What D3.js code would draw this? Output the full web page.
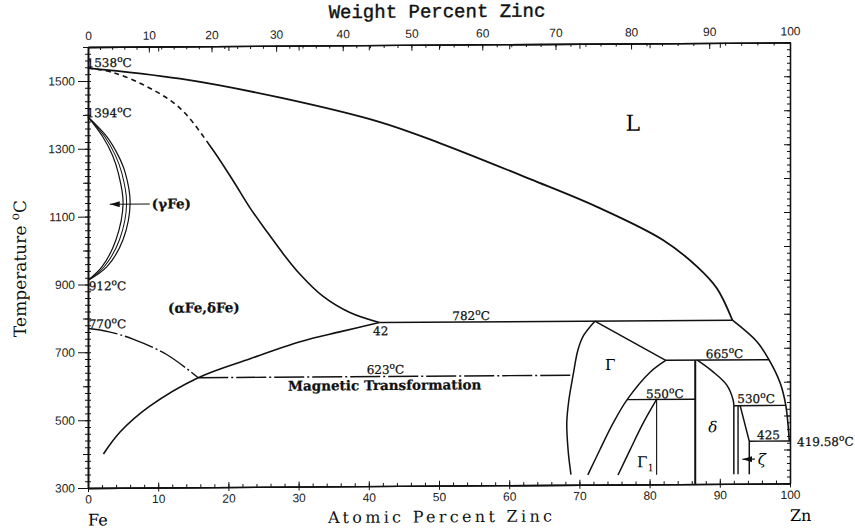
<!DOCTYPE html>
<html>
<head>
<meta charset="utf-8">
<script src="https://cdn.jsdelivr.net/npm/d3@7"></script>
<style>
  body { margin: 0; background: #fff; }
  svg { display: block; }
</style>
</head>
<body>
<div class="box"></div>
<script>
// ticks
const weightTicks = [0, 10, 20, 30, 40, 50, 60, 70, 80, 90, 100];
const atomicTicks = [0, 10, 20, 30, 40, 50, 60, 70, 80, 90, 100];
const tempTicks = [300, 500, 700, 900, 1100, 1300, 1500];

// phase boundaries [at.% Zn, °C]
const liquidusUpper = [[0, 1538], [13.1, 1505], [27.4, 1447], [41.6, 1373], [50.1, 1310], [63, 1202], [72.5, 1119], [81.9, 1020], [86.8, 940], [89.6, 876], [91.8, 782]];
const liquidusLower = [[91.8, 782], [95.3, 718], [97.0, 665], [98.6, 596], [99.4, 530], [99.9, 425]];
const solidusDashed = [[0, 1538], [3.6, 1524], [8.4, 1482], [13.1, 1418], [17.6, 1300]];
const solidusSolid = [[17.6, 1300], [20.7, 1202], [23.1, 1122], [25.5, 1052], [27.8, 987], [30.2, 926], [33.5, 860], [37.3, 812], [41.5, 782]];
const alphaSolvus = [[41.5, 782], [36, 756], [30.2, 727], [23.1, 678], [15.7, 623], [8.8, 540], [4.6, 465], [2.2, 400]];
const curieLine = [[0, 770], [3, 760], [6.4, 738], [11.2, 692], [15.7, 623]];
const magneticLine = [[15.7, 623], [69.1, 623]];
const gammaOuter = [[0, 1394], [2.7, 1335], [4.3, 1280], [5.3, 1229], [6.0, 1140], [5.0, 1032], [2.7, 952], [0, 912]];
const gammaMiddle = [[0, 1394], [2.4, 1335], [3.9, 1280], [4.8, 1229], [5.5, 1140], [4.5, 1032], [2.3, 952], [0, 912]];
const gammaInner = [[0, 1394], [2.1, 1335], [3.5, 1280], [4.3, 1229], [5.0, 1140], [4.0, 1032], [2.0, 952], [0, 912]];
const line782 = [[41.5, 782], [91.8, 782]];
const gammaLeft = [[72.2, 782], [70.6, 740], [69.8, 698], [69.1, 623], [68.5, 550], [68.2, 482], [68.4, 400], [68.8, 330]];
const gammaTop = [[72.2, 782], [82.3, 665]];
const line665 = [[82.3, 665], [97.0, 665]];
const gammaRight = [[82.3, 665], [80.1, 631], [76.8, 550], [74.8, 481], [72.9, 402], [71.2, 329]];
const line550 = [[76.8, 550], [86.5, 550]];
const gamma1Curve = [[81.0, 550], [79.1, 481], [77.2, 401], [75.5, 328]];
const gamma1Vert = [[81.0, 550], [81.0, 328]];
const deltaLeft = [[86.5, 665], [86.5, 300]];
const deltaRight = [[86.8, 665], [89.0, 631], [91.0, 591], [91.9, 547], [92.0, 530]];
const deltaRightVert = [[92.0, 530], [92.0, 328]];
const line530 = [[92.0, 530], [99.4, 530]];
const zetaLeft = [[92.6, 530], [92.6, 328]];
const zetaRight = [[92.9, 530], [94.2, 425], [94.2, 328]];
const line425 = [[94.2, 425], [100, 425]];

// textes [at.%, °C, texte]
const labels = [
  [-0.2, 1553, '1538°C'], [-0.2, 1405, '1394°C'], [0.1, 895, '912°C'], [0.1, 783, '770°C'],
  [40.6, 757, '42'], [51.9, 800, '782°C'], [39.7, 643, '623°C'],
  [79.5, 566, '550°C'], [88.0, 683, '665°C'], [92.5, 550, '530°C'], [95.3, 443, '425'],
  [101.0, 422, '419.58°C']
];
const boldLabels = [[11.4, 829, '(αFe,δFe)'], [9.1, 1136, '(γFe)'], [28.5, 597, 'Magnetic Transformation']];

const svg = d3.select('.box')
              .append('svg')
              .attr('width', 855)
              .attr('height', 529);

// le scan est légèrement incliné (côté droit ~5px plus haut)
const g = svg.append('g').attr('transform', 'matrix(1,-0.0066,0,1,0,0.58)');

const x = d3.scaleLinear().domain([0, 100]).range([88, 790]);
const y = d3.scaleLinear().domain([300, 1600]).range([488, 47]);

const wtToAt = w => 100 * (w / 65.38) / (w / 65.38 + (100 - w) / 55.845);

const tickFont = '12px "Liberation Sans", Arial, sans-serif';

// axes
const styleAxis = sel => {
  sel.select('.domain').attr('stroke', '#111').attr('stroke-width', 1.3);
  sel.selectAll('.tick line').attr('stroke', '#111');
  sel.selectAll('text').style('font', tickFont).attr('fill', '#222');
};

// bas
g.append('g').attr('transform', 'translate(0,488)')
 .call(d3.axisBottom(x).tickValues(d3.range(0, 101, 2)).tickSize(-3).tickFormat('').tickSizeOuter(0)).call(styleAxis);
g.append('g').attr('transform', 'translate(0,488)')
 .call(d3.axisBottom(x).tickValues(atomicTicks).tickSize(4).tickPadding(3).tickSizeOuter(0)).call(styleAxis);
g.append('g').attr('transform', 'translate(0,488)')
 .call(d3.axisBottom(x).tickValues(atomicTicks).tickSize(-5).tickFormat('').tickSizeOuter(0)).call(styleAxis);

// haut (pourcentage massique)
g.append('g').attr('transform', 'translate(0,47)')
 .call(d3.axisTop(x).tickValues(d3.range(0, 101, 2).map(wtToAt)).tickSize(-3).tickFormat('').tickSizeOuter(0)).call(styleAxis);
g.append('g').attr('transform', 'translate(0,47)')
 .call(d3.axisTop(x).tickValues(weightTicks.map(wtToAt)).tickSize(-6).tickPadding(7).tickFormat((d, i) => weightTicks[i]).tickSizeOuter(0)).call(styleAxis);
g.append('g').attr('transform', 'translate(0,47)')
 .call(d3.axisTop(x).tickValues(atomicTicks.slice(1, 10)).tickSize(-5).tickFormat('').tickSizeOuter(0)).call(styleAxis);

// gauche
g.append('g').attr('transform', 'translate(88,0)')
 .call(d3.axisLeft(y).tickValues(d3.range(300, 1601, 20)).tickSize(3).tickFormat('').tickSizeOuter(0)).call(styleAxis);
g.append('g').attr('transform', 'translate(88,0)')
 .call(d3.axisLeft(y).tickValues(d3.range(300, 1601, 20)).tickSize(-3).tickFormat('').tickSizeOuter(0)).call(styleAxis);
g.append('g').attr('transform', 'translate(88,0)')
 .call(d3.axisLeft(y).tickValues(tempTicks).tickSize(10).tickPadding(3).tickFormat(d3.format('d')).tickSizeOuter(0)).call(styleAxis);
g.append('g').attr('transform', 'translate(88,0)')
 .call(d3.axisLeft(y).tickValues(d3.range(400, 1601, 200)).tickSize(5).tickFormat('').tickSizeOuter(0)).call(styleAxis);

// droite
g.append('g').attr('transform', 'translate(790,0)')
 .call(d3.axisRight(y).tickValues(d3.range(300, 1601, 20)).tickSize(-3).tickFormat('').tickSizeOuter(0)).call(styleAxis);
g.append('g').attr('transform', 'translate(790,0)')
 .call(d3.axisRight(y).tickValues(d3.range(300, 1601, 100)).tickSize(-6).tickFormat('').tickSizeOuter(0)).call(styleAxis);

// courbes
const smooth = d3.line().x(d => x(d[0])).y(d => y(d[1])).curve(d3.curveCatmullRom.alpha(0.5));
const straight = d3.line().x(d => x(d[0])).y(d => y(d[1]));

const dashDot = '30,3,2,3';
const curves = [
  [liquidusUpper, smooth, 1.8, null], [liquidusLower, smooth, 1.6, null],
  [alphaSolvus, smooth, 1.6, null], [curieLine, smooth, 1.4, dashDot],
  [magneticLine, straight, 1.4, dashDot],
  [gammaOuter, smooth, 1.2, null], [gammaMiddle, smooth, 1.0, null], [gammaInner, smooth, 1.2, null],
  [line782, straight, 1.5, null], [gammaLeft, smooth, 1.5, null], [gammaTop, straight, 1.5, null],
  [line665, straight, 1.5, null], [gammaRight, smooth, 1.5, null], [line550, straight, 1.4, null],
  [gamma1Curve, smooth, 1.5, null], [gamma1Vert, straight, 1.1, null],
  [deltaLeft, straight, 2.0, null], [deltaRight, smooth, 1.5, null], [deltaRightVert, straight, 1.5, null],
  [line530, straight, 1.4, null], [zetaLeft, straight, 1.4, null], [zetaRight, straight, 1.5, null],
  [line425, straight, 1.4, null]
];

g.append('g').selectAll('path')
 .data(curves)
 .enter()
 .append('path')
 .attr('d', d => d[1](d[0]))
 .attr('fill', 'none')
 .attr('stroke', '#111')
 .attr('stroke-width', d => d[2])
 .attr('stroke-dasharray', d => d[3]);

// solidus : une seule courbe, pointillée jusqu'à ~17.6 at.%
const solidus = solidusDashed.concat(solidusSolid.slice(1));
const solPath = g.append('path')
                 .attr('d', smooth(solidus))
                 .attr('fill', 'none')
                 .attr('stroke', '#111')
                 .attr('stroke-width', 1.6);
const node = solPath.node();
const total = node.getTotalLength();
let lo = 0, hi = total;
while (hi - lo > 0.5) {
  const m = (lo + hi) / 2;
  if (node.getPointAtLength(m).x < x(solidusSolid[0][0])) lo = m; else hi = m;
}
const n = Math.floor(lo / 9);
const dashes = [];
for (let i = 0; i < n; i++) dashes.push(5, 4);
dashes.push(total, 0);
solPath.attr('stroke-dasharray', dashes.join(','));

// flèches
svg.append('defs').append('marker')
   .attr('id', 'fleche').attr('viewBox', '0 0 10 6').attr('refX', 10).attr('refY', 3)
   .attr('markerWidth', 10).attr('markerHeight', 6).attr('markerUnits', 'userSpaceOnUse').attr('orient', 'auto')
   .append('path').attr('d', 'M0,0L10,3L0,6z').attr('fill', '#111');

g.append('path').attr('d', straight([[8.8, 1136], [3.1, 1136]]))
 .attr('stroke', '#111').attr('stroke-width', 1.2).attr('marker-end', 'url(#fleche)');
g.append('path').attr('d', straight([[95.0, 372], [93.2, 372]]))
 .attr('stroke', '#111').attr('stroke-width', 1.2).attr('marker-end', 'url(#fleche)');

// ajoute "°C" avec un petit o en exposant
const addText = (sel, txt) => {
  const parts = txt.split('°');
  sel.append('tspan').text(parts[0]);
  if (parts.length > 1) {
    sel.append('tspan').attr('dy', -5).style('font-size', '9px').text('o');
    sel.append('tspan').attr('dy', 5).text(parts[1]);
  }
};

const annot = g.append('g').style('font', '12px "DejaVu Serif", serif')
               .attr('fill', '#111').attr('stroke', '#111').attr('stroke-width', 0.25);
labels.forEach(l => {
  annot.append('text').attr('x', x(l[0])).attr('y', y(l[1])).attr('dy', '0.35em')
       .call(addText, l[2]);
});
boldLabels.forEach(l => {
  annot.append('text').attr('x', x(l[0])).attr('y', y(l[1])).attr('dy', '0.35em')
       .style('font-weight', 'bold').style('font-size', '13.5px').text(l[2]);
});

// symboles des phases
const serif = '"DejaVu Serif", serif';
g.append('text').attr('x', x(77.6)).attr('y', y(1365)).attr('dy', '0.35em').attr('text-anchor', 'middle')
 .style('font', `22px ${serif}`).text('L');
g.append('text').attr('x', x(74.4)).attr('y', y(653)).attr('dy', '0.35em').attr('text-anchor', 'middle')
 .style('font', `15px ${serif}`).text('Γ');
g.append('text').attr('x', x(89.0)).attr('y', y(468)).attr('dy', '0.35em').attr('text-anchor', 'middle')
 .style('font', `italic 15px ${serif}`).text('δ');
const g1 = g.append('text').attr('x', x(78.2)).attr('y', y(366)).attr('dy', '0.35em').style('font', `15px ${serif}`);
g1.append('tspan').text('Γ');
g1.append('tspan').attr('dy', 4).style('font-size', '10px').text('1');
g.append('text').attr('x', x(95.4)).attr('y', y(372)).attr('dy', '0.35em')
 .style('font', `italic 15px ${serif}`).text('ζ');

// titres
g.append('text').attr('x', 437).attr('y', 13).attr('dy', '0.35em').attr('text-anchor', 'middle')
 .style('font', '19px "Liberation Mono", "Courier New", monospace').attr('fill', '#111')
 .attr('stroke', '#111').attr('stroke-width', 0.4)
 .text('Weight Percent Zinc');
g.append('text').attr('x', 440).attr('y', 519).attr('dy', '0.35em').attr('text-anchor', 'middle')
 .attr('textLength', 224).attr('lengthAdjust', 'spacing')
 .style('font', `16px ${serif}`).attr('fill', '#111')
 .text('Atomic Percent Zinc');
const tTitle = g.append('text').attr('transform', 'translate(26,268) rotate(-90)').attr('text-anchor', 'middle')
 .style('font', `17px ${serif}`).attr('fill', '#111');
tTitle.append('tspan').text('Temperature ');
tTitle.append('tspan').attr('dy', -7).style('font-size', '12px').text('o');
tTitle.append('tspan').attr('dy', 7).text('C');

g.append('text').attr('x', 88).attr('y', 520).attr('dy', '0.35em').style('font', `16px ${serif}`).text('Fe');
g.append('text').attr('x', 790).attr('y', 520).attr('dy', '0.35em').style('font', `16px ${serif}`).text('Zn');
</script>
</body>
</html>
